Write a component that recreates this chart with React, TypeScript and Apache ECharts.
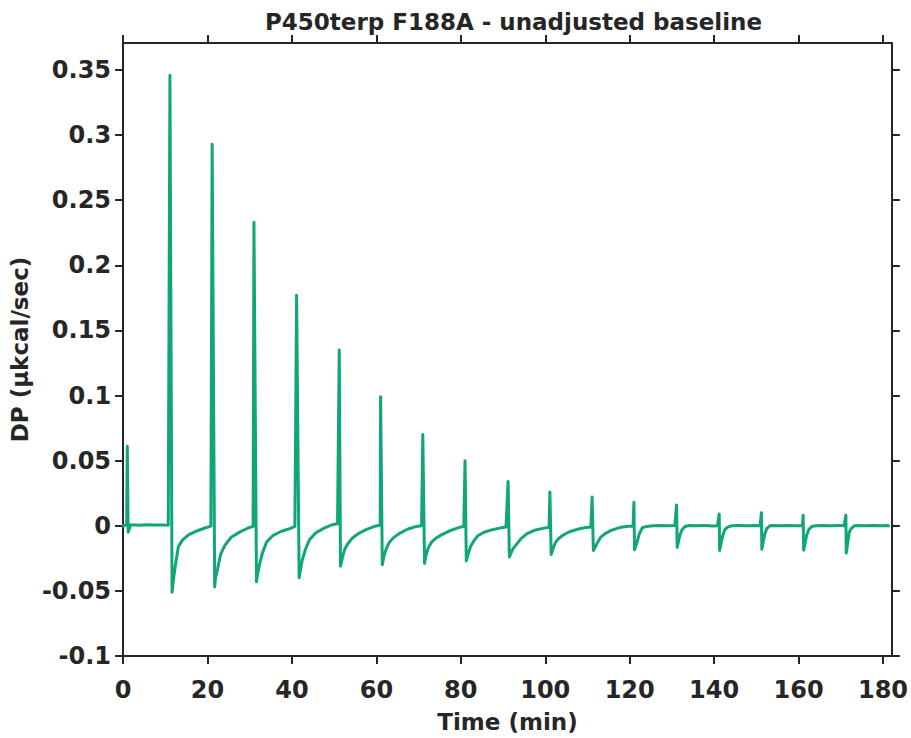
import React, { useEffect, useRef } from "react";
import * as echarts from "echarts";

// ---- data ----
const titleText = "P450terp F188A - unadjusted baseline";
const xAxisName = "Time (min)";
const yAxisName = "DP (µkcal/sec)";

const xTickValues = [0, 20, 40, 60, 80, 100, 120, 140, 160, 180];
const yTickValues = [-0.1, -0.05, 0, 0.05, 0.1, 0.15, 0.2, 0.25, 0.3, 0.35];

// baseline before the first injection
const leadInTimes = [0, 0.85];
const leadInValues = [0.0, 0.0005];

// injections (min), spike maxima and the negative dip that follows
const injectionTimes = [1.0, 11.1, 21.1, 31.0, 41.1, 51.2, 61.0, 71.0, 81.0, 91.2, 101.1, 111.1, 121.0, 131.1, 141.2, 151.2, 161.1, 171.2];
const peakValues = [0.061, 0.346, 0.293, 0.233, 0.177, 0.135, 0.099, 0.070, 0.050, 0.034, 0.026, 0.022, 0.018, 0.016, 0.009, 0.010, 0.008, 0.008];
const dipLags = [0.2, 0.5, 0.6, 0.6, 0.6, 0.3, 0.4, 0.4, 0.3, 0.3, 0.3, 0.3, 0.15, 0.15, 0.1, 0.1, 0.1, 0.1];
const dipValues = [-0.005, -0.051, -0.047, -0.043, -0.04, -0.031, -0.03, -0.029, -0.027, -0.024, -0.022, -0.019, -0.0185, -0.0166, -0.019, -0.018, -0.0187, -0.021];

// recovery towards the baseline, read at these minutes after each injection
const recoveryOffsets = [0.8, 1.3, 2.0, 3.0, 4.5, 6.5, 8.5, 9.7];
const recovery01 = [0.0008, 0.0005, 0.0006, 0.0004, 0.0007, 0.0005, 0.0006, 0.0004];
const recovery11 = [-0.042, -0.03, -0.016, -0.0108, -0.0068, -0.0038, -0.0015, -0.0003];
const recovery21 = [-0.04, -0.033, -0.022, -0.015, -0.0088, -0.0049, -0.0017, -0.0005];
const recovery31 = [-0.038, -0.03, -0.021, -0.0125, -0.0075, -0.0042, -0.0022, -0.0005];
const recovery41 = [-0.036, -0.027, -0.019, -0.011, -0.0055, -0.0018, 0.0008, 0.0015];
const recovery51 = [-0.024, -0.018, -0.014, -0.0098, -0.006, -0.0028, -0.0003, 0.0005];
const recovery61 = [-0.023, -0.018, -0.013, -0.0093, -0.0058, -0.0025, -0.0005, 0.0];
const recovery71 = [-0.022, -0.017, -0.0128, -0.0098, -0.0068, -0.0038, -0.0014, -0.0004];
const recovery81 = [-0.021, -0.016, -0.012, -0.0077, -0.005, -0.003, -0.0016, -0.001];
const recovery91 = [-0.02, -0.017, -0.0143, -0.01, -0.006, -0.0032, -0.0018, -0.0012];
const recovery101 = [-0.017, -0.013, -0.01, -0.0075, -0.0048, -0.0027, -0.0014, -0.001];
const recovery111 = [-0.016, -0.0128, -0.009, -0.0062, -0.0035, -0.0014, -0.0004, -0.0002];
const recovery121 = [-0.012, -0.006, -0.0015, -0.0005, 0.0, 0.0003, 0.0, 0.0002];
const recovery131 = [-0.007, -0.003, -0.0005, 0.0002, 0.0, 0.0003, -0.0002, 0.0];
const recovery141 = [-0.008, -0.003, -0.001, 0.0, 0.0003, 0.0, 0.0002, 0.0];
const recovery151 = [-0.0064, -0.002, 0.0, 0.0002, 0.0, 0.0003, 0.0, 0.0002];
const recovery161 = [-0.0075, -0.003, -0.0005, 0.0, 0.0002, 0.0, 0.0003, 0.0];
const recovery171 = [-0.005, -0.002, 0.0, 0.0002, 0.0, 0.0003, 0.0, 0.0002];
const recoveryValues = [
  recovery01, recovery11, recovery21, recovery31, recovery41, recovery51,
  recovery61, recovery71, recovery81, recovery91, recovery101, recovery111,
  recovery121, recovery131, recovery141, recovery151, recovery161, recovery171,
];

const endTime = 181.3;
const endValue = 0.0;

const xMin = 0;
const xMax = 182.1;
const yMin = -0.1;
const yMax = 0.3707;

function buildTrace(): [number, number][] {
  const pts: [number, number][] = [];
  leadInTimes.forEach((t, i) => pts.push([t, leadInValues[i]]));
  injectionTimes.forEach((t0, i) => {
    pts.push([t0, peakValues[i]]);
    pts.push([t0 + dipLags[i], dipValues[i]]);
    recoveryOffsets.forEach((o, j) => pts.push([t0 + o, recoveryValues[i][j]]));
  });
  pts.push([endTime, endValue]);
  return pts;
}

const INK = "#262626";
const LINE = "#10a67a";
const FONT = "DejaVu Sans";

export default function App() {
  const ref = useRef<HTMLDivElement>(null);

  useEffect(() => {
    if (!ref.current) return;
    const chart = echarts.init(ref.current, undefined, { renderer: "svg" });

    const labelStyle = {
      color: INK,
      fontFamily: FONT,
      fontWeight: "bold" as const,
      fontSize: 24,
    };
    const axisLine = { show: true, onZero: false, lineStyle: { color: INK, width: 2 } };
    const tick = (vals: number[]) => ({
      show: true,
      inside: false,
      length: 8,
      lineStyle: { color: INK, width: 2 },
      customValues: vals,
    });
    const fmtY = (v: number) => String(Math.round(v * 100) / 100);

    chart.setOption({
      animation: false,
      backgroundColor: "#ffffff",
      title: {
        text: titleText,
        left: 508.5,
        top: 5,
        textAlign: "center",
        textStyle: { ...labelStyle, fontSize: 23 },
      },
      grid: { left: 119, right: 13, top: 43, bottom: 81, containLabel: false },
      xAxis: [
        {
          type: "value",
          min: xMin,
          max: xMax,
          position: "bottom",
          axisLine,
          axisTick: tick(xTickValues),
          axisLabel: { ...labelStyle, margin: 22, customValues: xTickValues },
          splitLine: { show: false },
          name: xAxisName,
          nameLocation: "middle",
          nameGap: 54,
          nameTextStyle: { ...labelStyle, fontSize: 23 },
        },
        {
          type: "value",
          min: xMin,
          max: xMax,
          position: "top",
          axisLine,
          axisTick: tick(xTickValues),
          axisLabel: { show: false },
          splitLine: { show: false },
        },
      ],
      yAxis: [
        {
          type: "value",
          min: yMin,
          max: yMax,
          position: "left",
          axisLine,
          axisTick: tick(yTickValues),
          axisLabel: { ...labelStyle, margin: 12, customValues: yTickValues, formatter: fmtY },
          splitLine: { show: false },
          name: yAxisName,
          nameLocation: "middle",
          nameGap: 84,
          nameTextStyle: { ...labelStyle, fontSize: 23 },
        },
        {
          type: "value",
          min: yMin,
          max: yMax,
          position: "right",
          axisLine,
          axisTick: tick(yTickValues),
          axisLabel: { show: false },
          splitLine: { show: false },
        },
      ],
      series: [
        {
          type: "line",
          xAxisIndex: 0,
          yAxisIndex: 0,
          data: buildTrace(),
          showSymbol: false,
          symbol: "none",
          clip: true,
          lineStyle: { color: LINE, width: 3, join: "round", cap: "round" },
        },
      ],
    });

    return () => chart.dispose();
  }, []);

  return (
    <div
      ref={ref}
      style={{ position: "absolute", left: 0, top: 0, width: 911, height: 738 }}
    />
  );
}
